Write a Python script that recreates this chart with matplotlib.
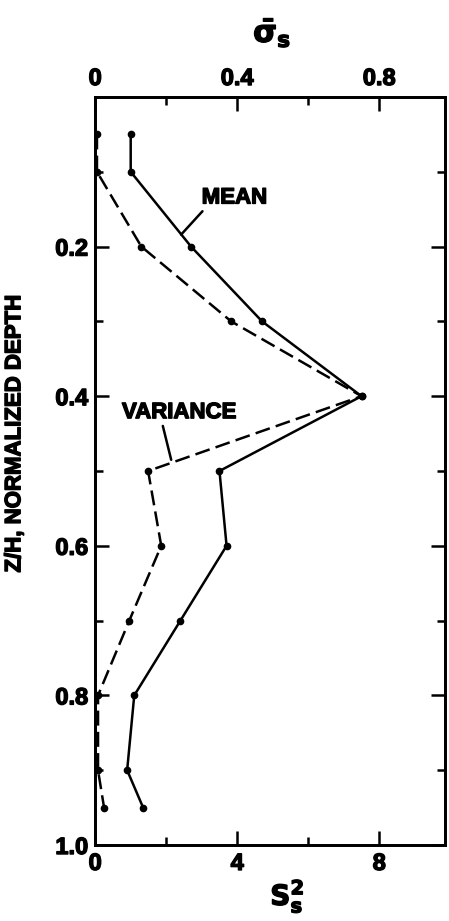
import matplotlib
matplotlib.use('Agg')
import matplotlib.pyplot as plt
import matplotlib.patheffects as pe
from matplotlib.ticker import MultipleLocator

plt.rcParams['font.family'] = ['Liberation Sans', 'DejaVu Sans']
plt.rcParams['font.weight'] = 'bold'
plt.rcParams['mathtext.fontset'] = 'dejavusans'

# normalized depth Z/H of the sampling levels
depth = [0.05, 0.1, 0.2, 0.3, 0.4, 0.5, 0.6, 0.7, 0.8, 0.9, 0.95]
# mean sigma_s (top scale)
mean_sigma = [0.10, 0.10, 0.27, 0.47, 0.75, 0.35, 0.37, 0.24, 0.11, 0.09, 0.135]
# variance S_s^2 (bottom scale)
variance = [0.05, 0.05, 1.3, 3.83, 7.5, 1.49, 1.86, 0.96, 0.08, 0.08, 0.25]

heavy = [pe.withStroke(linewidth=1.0, foreground='black')]
narrow = ['Liberation Sans Narrow', 'Liberation Sans', 'DejaVu Sans']

fig = plt.figure(figsize=(4.49, 9.21), dpi=100)
ax = fig.add_axes([0.212, 0.0825, 0.779, 0.8122])
ax2 = ax.twiny()

ax.set_xlim(0, 9.85)
ax2.set_xlim(0, 0.985)
ax.set_ylim(1.0, 0)

ax.plot(variance, depth, color='black', lw=1.8, dashes=(6, 2.5),
        marker='o', ms=4.5)
ax2.plot(mean_sigma, depth, color='black', lw=1.8, marker='o', ms=4.5)

# ticks
ax.xaxis.set_minor_locator(MultipleLocator(2))
ax2.xaxis.set_minor_locator(MultipleLocator(0.2))
ax.yaxis.set_minor_locator(MultipleLocator(0.1))
ax.set_xticks([0, 4, 8])
ax.set_xticklabels(['0', '4', '8'])
ax2.set_xticks([0, 0.4, 0.8])
ax2.set_xticklabels(['0', '0.4', '0.8'])
ax.set_yticks([0.2, 0.4, 0.6, 0.8, 1.0])
ax.set_yticklabels(['0.2', '0.4', '0.6', '0.8', '1.0'])

for a in (ax, ax2):
    a.tick_params(which='major', direction='in', length=10, width=1.8,
                  labelsize=17, pad=5)
    a.tick_params(which='minor', direction='in', length=6, width=1.8)
    for s in a.spines.values():
        s.set_linewidth(2)
    for lbl in a.get_xticklabels() + a.get_yticklabels():
        lbl.set_path_effects(heavy)
ax.tick_params(axis='y', which='both', right=True)
ax.tick_params(axis='x', which='both', top=False)
ax2.tick_params(axis='x', which='both', bottom=False)

ax.set_ylabel('Z/H, NORMALIZED DEPTH', fontsize=16, fontweight='bold',
              family=narrow, path_effects=heavy)
ax.yaxis.set_label_coords(-0.2, 0.55)

fig.text(0.606, 0.965, r'$\mathbf{\bar{\sigma}_s}$', fontsize=22,
         ha='center', va='center', path_effects=heavy)
fig.text(0.64, 0.027, r'$\mathbf{S_s^2}$', fontsize=20,
         ha='center', va='center', path_effects=heavy)

# curve labels with leader lines
ax.annotate('MEAN', xy=(2.42, 0.184), xytext=(3.0, 0.135),
            fontsize=16, fontweight='bold', ha='left', va='center',
            family=narrow, path_effects=heavy,
            arrowprops=dict(arrowstyle='-', lw=1.8, color='black',
                            shrinkA=0, shrinkB=0, relpos=(0.05, 0.0)))
ax.annotate('VARIANCE', xy=(2.14, 0.485), xytext=(2.37, 0.422),
            fontsize=16, fontweight='bold', ha='center', va='center',
            family=narrow, path_effects=heavy,
            arrowprops=dict(arrowstyle='-', lw=1.8, color='black',
                            shrinkA=0, shrinkB=0, relpos=(0.35, 0.0)))

fig.savefig('out.png', dpi=100)
